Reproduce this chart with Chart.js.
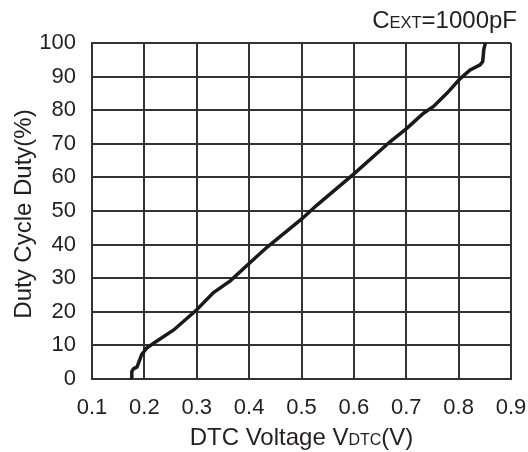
<!DOCTYPE html>
<html lang="en">
<head>
  <meta charset="UTF-8">
  <title>Duty Cycle vs DTC Voltage</title>
  <script src="https://cdn.jsdelivr.net/npm/chart.js"></script>
  <style>
    body { margin: 0; background: #fff; }
    #wrap { width: 528px; height: 452px; }
  </style>
</head>
<body>
  <div id="wrap"><canvas id="dutyChart"></canvas></div>

  <script>
    // curve (CEXT = 1000pF)
    var dtcVoltage = [0.175, 0.176, 0.179, 0.186, 0.195, 0.205, 0.224, 0.256, 0.300, 0.332, 0.364, 0.402, 0.434, 0.501, 0.529, 0.599, 0.669, 0.701, 0.733, 0.752, 0.778, 0.803, 0.822, 0.841, 0.846, 0.848, 0.851];
    var dutyCycle  = [0, 2.2, 3.0, 3.6, 7.3, 9.3, 11.3, 14.6, 20.6, 25.7, 29.2, 34.7, 39.2, 47.7, 51.7, 60.9, 70.6, 74.6, 79.1, 81.1, 85.1, 89.4, 92.0, 93.5, 94.5, 98.0, 100];

    var xMin = 0.1, xMax = 0.9, xStep = 0.1;
    var yMin = 0, yMax = 100, yStep = 10;

    var xTitle = [['DTC Voltage V', 24], ['DTC', 16], ['(V)', 24]];
    var yTitle = 'Duty Cycle Duty(%)';
    var noteText = [['C', 24], ['EXT', 16.5], ['=1000pF', 24]];

    var textColor = '#231f20';
    var gridColor = '#333333';
    var fontFamily = '"Liberation Sans", Arial, sans-serif';

    var points = dtcVoltage.map(function(v, i) {
      return { x: v, y: dutyCycle[i] };
    });

    // draws a run of text pieces with different sizes on one baseline
    function drawMixed(ctx, parts, x, y, align) {
      var total = 0;
      parts.forEach(function(p) {
        ctx.font = p[1] + 'px ' + fontFamily;
        total += ctx.measureText(p[0]).width;
      });
      var cx = align === 'right' ? x - total : (align === 'center' ? x - total / 2 : x);
      ctx.textAlign = 'left';
      ctx.textBaseline = 'alphabetic';
      parts.forEach(function(p) {
        ctx.font = p[1] + 'px ' + fontFamily;
        ctx.fillText(p[0], cx, y);
        cx += ctx.measureText(p[0]).width;
      });
    }

    var titlePlugin = {
      id: 'titles',
      afterDraw: function(chart) {
        var ctx = chart.ctx;
        var area = chart.chartArea;
        ctx.save();
        ctx.fillStyle = textColor;
        drawMixed(ctx, xTitle, (area.left + area.right) / 2, 445, 'center');
        drawMixed(ctx, noteText, 517, 28, 'right');
        ctx.translate(24, 214);
        ctx.rotate(-Math.PI / 2);
        ctx.font = '24px ' + fontFamily;
        ctx.textAlign = 'center';
        ctx.textBaseline = 'middle';
        ctx.fillText(yTitle, 0, 0);
        ctx.restore();
      }
    };

    var ctx = document.getElementById('dutyChart').getContext('2d');
    var chart = new Chart(ctx, {
      type: 'scatter',
      data: {
        datasets: [{
          data: points,
          showLine: true,
          borderColor: '#1a1a1a',
          borderWidth: 3.5,
          pointRadius: 0,
          tension: 0,
          fill: false
        }]
      },
      options: {
        responsive: true,
        maintainAspectRatio: false,
        animation: false,
        layout: { padding: { top: 43, right: 17, left: 0, bottom: 0 } },
        plugins: {
          legend: { display: false },
          tooltip: { enabled: false }
        },
        scales: {
          x: {
            type: 'linear',
            min: xMin,
            max: xMax,
            afterFit: function(scale) {
              scale.height = 73;
              // keep the plot edge fixed, the last label may hang past it
              scale.paddingLeft = 0;
              scale.paddingRight = 0;
            },
            ticks: {
              stepSize: xStep,
              color: textColor,
              padding: 16,
              maxRotation: 0,
              font: { family: fontFamily, size: 22 },
              callback: function(v) { return Number(v).toFixed(1); }
            },
            grid: { color: gridColor, lineWidth: 2, drawTicks: false },
            border: { color: gridColor, width: 2 }
          },
          y: {
            min: yMin,
            max: yMax,
            afterFit: function(scale) { scale.width = 92; },
            ticks: {
              stepSize: yStep,
              color: textColor,
              padding: 16,
              font: { family: fontFamily, size: 22 }
            },
            grid: { color: gridColor, lineWidth: 2, drawTicks: false },
            border: { color: gridColor, width: 2 }
          }
        }
      },
      plugins: [titlePlugin]
    });
  </script>
</body>
</html>
